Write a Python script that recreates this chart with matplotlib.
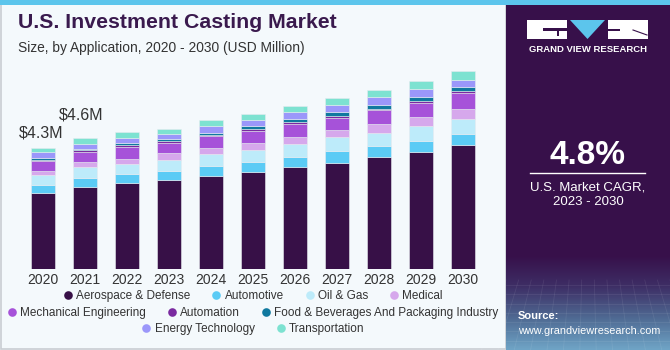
import numpy as np
import matplotlib
matplotlib.use("Agg")
import matplotlib.pyplot as plt
from matplotlib.patches import Rectangle, Polygon
from matplotlib.lines import Line2D

plt.rcParams['font.family'] = ['Liberation Sans', 'DejaVu Sans']

years = ['2020', '2021', '2022', '2023', '2024', '2025', '2026', '2027', '2028', '2029', '2030']
segments = ['Aerospace & Defense', 'Automotive', 'Oil & Gas', 'Medical',
            'Mechanical Engineering', 'Automation', 'Food & Beverages And Packaging Industry',
            'Energy Technology', 'Transportation']
aerospace = [2.71, 2.90, 3.04, 3.14, 3.30, 3.44, 3.63, 3.76, 3.96, 4.13, 4.38]
automotive = [0.26, 0.31, 0.32, 0.34, 0.36, 0.35, 0.35, 0.43, 0.39, 0.42, 0.41]
oil_gas = [0.36, 0.39, 0.35, 0.38, 0.41, 0.42, 0.45, 0.47, 0.47, 0.51, 0.51]
medical = [0.15, 0.18, 0.19, 0.26, 0.20, 0.26, 0.26, 0.26, 0.32, 0.32, 0.35]
mech_eng = [0.34, 0.36, 0.43, 0.35, 0.43, 0.41, 0.46, 0.43, 0.48, 0.49, 0.58]
automation = [0.05, 0.06, 0.05, 0.05, 0.03, 0.06, 0.06, 0.07, 0.06, 0.08, 0.06]
food_bev = [0.07, 0.06, 0.07, 0.09, 0.09, 0.13, 0.11, 0.14, 0.13, 0.14, 0.15]
energy = [0.19, 0.18, 0.19, 0.17, 0.24, 0.20, 0.24, 0.24, 0.27, 0.27, 0.26]
transport = [0.14, 0.20, 0.20, 0.17, 0.20, 0.21, 0.22, 0.24, 0.27, 0.31, 0.32]
series = [aerospace, automotive, oil_gas, medical, mech_eng, automation, food_bev, energy, transport]
colors = ['#371047', '#5BCBF5', '#BDEBFA', '#D6A8EC', '#A652D9', '#7A2AA0',
          '#10799F', '#9B97FA', '#7DE2D1']
annot_years = ['2020', '2021']
annot_text = ['$4.3M', '$4.6M']

W, H = 670, 350
fig = plt.figure(figsize=(W / 100, H / 100), dpi=100)
fig.patch.set_facecolor('#F4F9FC')

def fx(px):
    return px / W

def fy(py):
    return 1 - py / H

# background decorations
bg = fig.add_axes([0, 0, 1, 1], zorder=-5)
bg.set_xlim(0, W)
bg.set_ylim(H, 0)
bg.axis('off')
bg.add_patch(Rectangle((0.5, 0), 505, H - 1.5, facecolor='#F4F9FC', edgecolor='#C9CDD2', lw=1.2))
bg.add_patch(Rectangle((506, 0), W - 506, H, facecolor='#37104A', edgecolor='none'))
grad = np.linspace(0, 1, 100)[:, None]
cmap = matplotlib.colors.LinearSegmentedColormap.from_list('g', ['#37104A', '#3E2F66', '#4F6A93', '#6FA4C6'])
bg.imshow(grad, extent=(506, W, H, 255), cmap=cmap, aspect='auto', zorder=1)
for yy in np.linspace(285, 350, 8):
    bg.plot([506, W], [yy, yy], color='white', alpha=0.08, lw=0.6, zorder=2)
for xx in np.linspace(506, W, 14):
    bg.plot([xx, xx + (xx - 588) * 0.3], [280, 350], color='white', alpha=0.08, lw=0.6, zorder=2)
bg.add_patch(Rectangle((0, 0), W, 5, facecolor='#5CC5EC', edgecolor='none', zorder=3))

# logo
bg.add_patch(Rectangle((527, 20), 40, 19, facecolor='white', edgecolor='none', zorder=3))
bg.add_patch(Rectangle((543, 28), 24, 3, facecolor='#37104A', edgecolor='none', zorder=4))
bg.add_patch(Rectangle((557, 28), 2, 8, facecolor='#37104A', edgecolor='none', zorder=4))
bg.add_patch(Polygon([(570, 20), (605, 20), (587.5, 39)], closed=True, facecolor='#5CC5EC', edgecolor='none', zorder=3))
bg.add_patch(Rectangle((608, 20), 40, 19, facecolor='white', edgecolor='none', zorder=3))
bg.plot([633, 647], [30, 35], color='#37104A', lw=0.8, zorder=4)
bg.add_patch(Rectangle((608, 29), 12, 1.5, facecolor='#37104A', edgecolor='none', zorder=4))
fig.text(fx(588), fy(50), 'GRAND VIEW RESEARCH', color='white', fontsize=6.8, fontweight='bold',
         ha='center', va='center')

fig.text(fx(588), fy(155), '4.8%', color='white', fontsize=24, fontweight='bold', ha='center', va='center')
bg.plot([530, 645], [173, 173], color='white', lw=1, zorder=4)
fig.text(fx(588), fy(187), 'U.S. Market CAGR,', color='white', fontsize=9.5, ha='center', va='center')
fig.text(fx(588), fy(202), '2023 - 2030', color='white', fontsize=9.5, ha='center', va='center')
fig.text(fx(518), fy(316), 'Source:', color='white', fontsize=8, fontweight='bold', ha='left', va='center')
fig.text(fx(518), fy(331), 'www.grandviewresearch.com', color='white', fontsize=7.8, ha='left', va='center')

# titles
fig.text(fx(18), fy(28), 'U.S. Investment Casting Market', color='#3A1A4E', fontsize=15.3,
         fontweight='bold', ha='left', va='baseline')
fig.text(fx(18), fy(48), 'Size, by Application, 2020 - 2030 (USD Million)', color='#333333',
         fontsize=9.9, ha='left', va='center')

# main axes
px_per_unit = 28.3
base_px = 269.3
ax_h = 220
ax = fig.add_axes([fx(22), (H - base_px) / H, 462 / W, ax_h / H])
ax.set_facecolor('none')
x = np.arange(len(years))
bottom = np.zeros(len(years))
for vals, col in zip(series, colors):
    ax.bar(x, vals, bottom=bottom, width=0.57, color=col, edgecolor='#E6EBF0', linewidth=0.4)
    bottom += np.array(vals)
ax.set_xlim(-0.5, len(years) - 0.5)
ax.set_ylim(0, ax_h / px_per_unit)
ax.set_xticks(x)
ax.set_xticklabels(years, fontsize=10, color='#333333')
ax.tick_params(axis='x', length=0, pad=3)
ax.set_yticks([])
for s in ax.spines.values():
    s.set_visible(False)

totals = bottom
offsets = [(-0.05, 0.55), (-0.1, 0.8)]
for yr, txt, off in zip(annot_years, annot_text, offsets):
    i = years.index(yr)
    ax.text(i + off[0], totals[i] + off[1], txt, fontsize=11.5, color='#333333', ha='center', va='center')

# legend rows
rows = [[0, 1, 2, 3], [4, 5, 6], [7, 8]]
row_y = [296, 313, 329]
for r, yy in zip(rows, row_y):
    handles = [Line2D([], [], marker='o', linestyle='none', markersize=6.2,
                      markerfacecolor=colors[k], markeredgecolor='none') for k in r]
    labels = [segments[k] for k in r]
    fig.legend(handles, labels, loc='center', bbox_to_anchor=(fx(253), fy(yy)),
               ncol=len(r), frameon=False, fontsize=8.5, handletextpad=0.3,
               columnspacing=1.8, handlelength=0.8, borderpad=0, labelcolor='#333333')

fig.savefig('out.png', dpi=100, facecolor=fig.get_facecolor())
